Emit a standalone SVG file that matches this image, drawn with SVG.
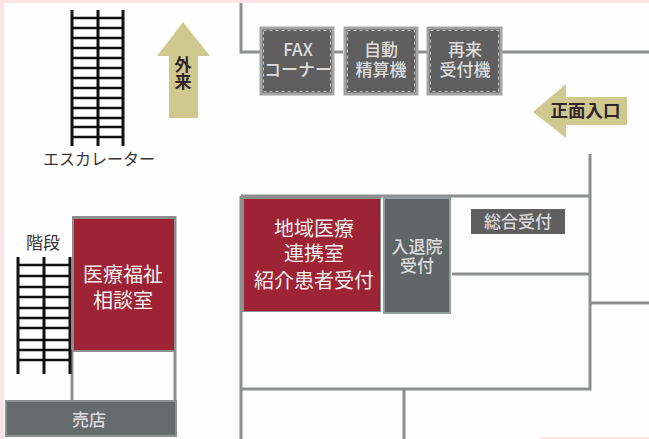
<svg xmlns="http://www.w3.org/2000/svg" width="649" height="439" viewBox="0 0 649 439">
<style>
text{font-family:"Noto Sans CJK JP","Liberation Sans",sans-serif;text-anchor:middle}
.wall{fill:none;stroke:#8d8f8f;stroke-width:3}
.kiosk{fill:#5f5f5f;stroke:#a3a3a3;stroke-width:3}
.dash{fill:none;stroke:#c4c4c4;stroke-width:1;stroke-dasharray:3 3}
.red{fill:#9e2435}
.w{fill:#f4f1f1;font-size:20px}
.g{fill:#dcdcdc;font-size:17px;font-weight:500}
.k{fill:#33242a}
.ladder{fill:none;stroke:#111;stroke-width:3}
.rung{fill:none;stroke:#111;stroke-width:2.4}
.arrow{fill:#cfc88f}
</style>
<rect width="649" height="439" fill="#fefefe"/>
<path d="M0 0H649V3H4V439H0Z" fill="#fde3e5"/>
<path d="M540 437H649V439H540Z" fill="#fde3e5"/>
<g id="connectors" class="wall">
<path d="M241 3V52H260"/>
<path d="M333 52H343M418 52H427M502 52H649"/>
<path d="M590 154V389H241"/>
<path d="M241 196H590"/>
<path d="M241 196V439"/>
<path d="M452 274H590M591 303H649M404 390V439"/>
<path d="M175 216V401M72 350V401"/>
</g>
<g id="escalator">
<path class="ladder" d="M72 10V146M98 10V146M123 10V146"/>
<path class="rung" d="M72 18H123M72 28H123M72 38H123M72 48H123M72 58H123M72 68H123M72 78H123M72 88H123M72 98H123M72 108H123M72 118H123M72 127H123M72 137H123"/>
<text x="99" y="165" font-size="16" fill="#3a3235" textLength="112" lengthAdjust="spacingAndGlyphs">エスカレーター</text>
</g>
<g id="outpatient-arrow">
<path class="arrow" d="M183 22L210 56H198V118H169V56H157Z"/>
<text font-size="17" font-weight="700" class="k"><tspan x="183" y="71">外</tspan><tspan x="183" y="88">来</tspan></text>
</g>
<g id="entrance-arrow">
<path class="arrow" d="M533 112L566 84V97H627V125H566V138Z"/>
<text x="585.5" y="117" font-size="17" font-weight="700" class="k" textLength="70" lengthAdjust="spacingAndGlyphs">正面入口</text>
</g>
<g id="fax">
<rect class="kiosk" x="261" y="28" width="72" height="66"/>
<rect class="dash" x="263.5" y="30.5" width="67" height="61"/>
<text class="g"><tspan x="298" y="56">FAX</tspan><tspan x="298" y="76">コーナー</tspan></text>
</g>
<g id="payment">
<rect class="kiosk" x="345" y="28" width="72" height="66"/>
<rect class="dash" x="347.5" y="30.5" width="67" height="61"/>
<text class="g"><tspan x="381" y="56">自動</tspan><tspan x="381" y="76">精算機</tspan></text>
</g>
<g id="revisit">
<rect class="kiosk" x="428" y="28" width="73" height="66"/>
<rect class="dash" x="430.5" y="30.5" width="68" height="61"/>
<text class="g"><tspan x="465" y="56">再来</tspan><tspan x="465" y="76">受付機</tspan></text>
</g>
<g id="regional">
<rect x="241" y="196" width="140" height="116" fill="#8d8f8f"/>
<rect class="red" x="244" y="199" width="136" height="112"/>
<text class="w"><tspan x="314" y="236">地域医療</tspan><tspan x="314" y="261">連携室</tspan><tspan x="314" y="288">紹介患者受付</tspan></text>
</g>
<g id="admission">
<rect x="384" y="198" width="66" height="115" fill="#5f6666" stroke="#94a0a0" stroke-width="2"/>
<text class="g"><tspan x="417" y="253">入退院</tspan><tspan x="417" y="272">受付</tspan></text>
</g>
<g id="reception">
<rect x="471" y="209" width="94" height="25" fill="#5f5f5f"/>
<text x="518" y="228" font-size="17" font-weight="500" fill="#d8d8d8">総合受付</text>
</g>
<g id="stairs">
<path class="ladder" d="M18 257V374M44 257V374M70 257V374"/>
<path class="rung" d="M18 265H70M18 276H70M18 287H70M18 297H70M18 308H70M18 318H70M18 328H70M18 340H70M18 350H70M18 360H70"/>
<text x="43" y="249" font-size="17" fill="#3a3235">階段</text>
</g>
<g id="welfare">
<rect x="72" y="216" width="104" height="136" fill="#8d8f8f"/>
<rect class="red" x="74" y="219" width="100" height="131"/>
<text class="w"><tspan x="123" y="282">医療福祉</tspan><tspan x="123" y="308">相談室</tspan></text>
</g>
<g id="shop">
<rect x="6" y="401" width="170" height="35" fill="#666b6b" stroke="#8d9090" stroke-width="2"/>
<text class="g" x="89" y="426">売店</text>
</g>
</svg>
